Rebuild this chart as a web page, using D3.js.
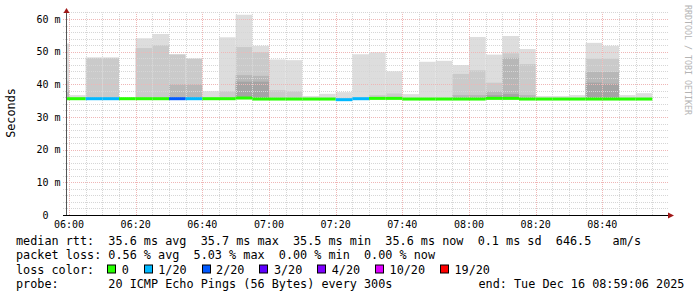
<!DOCTYPE html>
<html>
<head>
<meta charset="utf-8">
<script src="https://cdn.jsdelivr.net/npm/d3@7"></script>
<style>
  html, body { margin: 0; padding: 0; background: #fff; }
  svg { display: block; }
  text { font-family: "DejaVu Sans Mono", monospace; white-space: pre; }
</style>
</head>
<body>
<svg id="chart" width="697" height="297"></svg>
<script>
// 5-minute slots (start time of each 300s step)
const SLOTS = ["05:55","06:00","06:05","06:10","06:15","06:20","06:25","06:30","06:35","06:40",
  "06:45","06:50","06:55","07:00","07:05","07:10","07:15","07:20","07:25","07:30",
  "07:35","07:40","07:45","07:50","07:55","08:00","08:05","08:10","08:15","08:20",
  "08:25","08:30","08:35","08:40","08:45","08:50"];
// median rtt (ms)
const MEDIAN = [35.6,35.6,35.6,35.6,35.6,35.6,35.6,35.6,35.6,35.6,
  35.6,35.8,35.5,35.5,35.5,35.5,35.5,35.3,35.6,35.7,
  35.7,35.5,35.5,35.5,35.5,35.5,35.7,35.7,35.5,35.5,
  35.5,35.5,35.5,35.5,35.5,35.5];
// lost pings out of 20
const LOSS = [0,0,1,1,0,0,0,2,1,0, 0,0,0,0,0,0,0,1,1,0, 0,0,0,0,0,0,0,0,0,0, 0,0,0,0,0,0];
// smoke band tops (ms), outermost band first; null = band not drawn
const SMOKE = [
  [52.5,41.0,38.0], [36.7], [null,48.2], [null,48.2], [], [54.1,51.1], [55.4,52.0],
  [null,49.2,40.0], [null,47.9,40.0], [37.9], [54.4,37.9], [61.3,51.4,42.8,40.8],
  [51.8,49.8,42.6,40.8], [47.6,38.2], [47.4,37.9], [36.4], [37.1], [37.6], [49.2],
  [49.8,36.7], [44.0,37.2], [37.0], [46.9], [47.2], [45.9,43.2,36.7], [54.5,44.3,36.7],
  [49.1,40.5,37.8,36.7], [54.8,49.5,48.1,37.0], [50.8,46.2,36.7], [36.4], [36.4], [36.7],
  [52.7,47.8,43.8,40.5], [51.8,47.8,43.8,40.2], [36.7], [37.3]
];
const Y_TICKS = [0, 10, 20, 30, 40, 50, 60];
const X_TICKS = ["06:00","06:20","06:40","07:00","07:20","07:40","08:00","08:20","08:40"];
const LOSS_KEYS = [0, 1, 2, 3, 4, 10, 19];
const LOSS_COLORS = ["#26ff00","#00b8ff","#0059ff","#5e00ff","#7e00ff","#dd00ff","#ff0000"];
const LOSS_LABELS = ["0","1/20","2/20","3/20","4/20","10/20","19/20"];
const SMOKE_SHADES = ["#dddddd","#cacaca","#b7b7b7","#a4a4a4"];
const LEGEND = [
  "median rtt:  35.6 ms avg  35.7 ms max  35.5 ms min  35.6 ms now  0.1 ms sd  646.5   am/s",
  "packet loss: 0.56 % avg  5.03 % max  0.00 % min  0.00 % now"
];

const svg = d3.select("#chart");
const tp = d3.timeParse("%H:%M:%S");
const t5 = s => tp(s + ":00");

const L = 66, R = 666, B = 215;
const x = d3.scaleTime().domain([tp("05:59:06"), tp("08:59:06")]).range([L, R]);
const y = d3.scaleLinear().domain([0, 60]).range([B, 19]);
const TOP = y(62);

svg.append("defs").append("clipPath").attr("id", "plot")
  .append("rect").attr("x", L).attr("y", TOP).attr("width", R - L + 2).attr("height", B - TOP);

const lossColor = n => {
  let c = LOSS_COLORS[0];
  LOSS_KEYS.forEach((k, i) => { if (n >= k) c = LOSS_COLORS[i]; });
  return c;
};

// smoke
const plot = svg.append("g").attr("clip-path", "url(#plot)");
SLOTS.forEach((s, i) => {
  const a = t5(s), b = d3.timeMinute.offset(a, 5);
  const x0 = x(a), x1 = x(b);
  SMOKE[i].forEach((top, k) => {
    if (top == null) return;
    plot.append("rect")
      .attr("x", x0).attr("width", x1 - x0)
      .attr("y", y(top)).attr("height", y(MEDIAN[i]) - y(top))
      .attr("fill", SMOKE_SHADES[k]);
  });
});

// grid
const grid = svg.append("g").attr("fill", "none").attr("stroke-dasharray", "1,1");
d3.range(2, 63, 2).forEach(v => {
  const yy = Math.round(y(v)) + 0.5;
  grid.append("line").attr("x1", 63).attr("x2", 668).attr("y1", yy).attr("y2", yy)
    .attr("stroke", v % 10 === 0 ? "#efb6b6" : "#d6d6d6");
});
d3.timeMinute.every(5).range(tp("06:00:00"), tp("09:00:00")).forEach(d => {
  const xx = Math.round(x(d)) + 0.5;
  grid.append("line").attr("x1", xx).attr("x2", xx).attr("y1", B).attr("y2", TOP)
    .attr("stroke", d.getMinutes() % 20 === 0 ? "#efb6b6" : "#d6d6d6");
});

// median line coloured by loss
const med = svg.append("g").attr("clip-path", "url(#plot)");
SLOTS.forEach((s, i) => {
  const a = t5(s), b = d3.timeMinute.offset(a, 5);
  med.append("rect")
    .attr("x", x(a)).attr("width", x(b) - x(a))
    .attr("y", y(MEDIAN[i]) - 1.5).attr("height", 3)
    .attr("fill", lossColor(LOSS[i]));
});

// axes
svg.append("line").attr("x1", L + 0.5).attr("x2", L + 0.5).attr("y1", B).attr("y2", TOP - 1)
  .attr("stroke", "#555");
svg.append("path").attr("d", `M${L - 2.5},${TOP + 0.5} L${L + 3.5},${TOP + 0.5} L${L + 0.5},${TOP - 4.5} Z`)
  .attr("fill", "#a01818");
svg.append("line").attr("x1", 63).attr("x2", 669).attr("y1", B + 0.5).attr("y2", B + 0.5)
  .attr("stroke", "#000");
svg.append("path").attr("d", `M668,${B - 2.5} L668,${B + 3.5} L674,${B + 0.5} Z`)
  .attr("fill", "#a01818");

// tick labels
svg.append("g").selectAll("text").data(Y_TICKS).join("text")
  .attr("x", 60.5).attr("y", d => y(d) + 3.5)
  .attr("text-anchor", "end").attr("font-size", "10px").attr("fill", "#000")
  .text(d => d ? `${d} m` : "0  ");
svg.append("g").selectAll("text").data(X_TICKS).join("text")
  .attr("x", d => x(t5(d))).attr("y", 227.5)
  .attr("text-anchor", "middle").attr("font-size", "10px").attr("fill", "#000")
  .text(d => d);

svg.append("text").attr("transform", "translate(15,113) rotate(-90)")
  .attr("text-anchor", "middle").attr("font-size", "11.8px").attr("fill", "#000")
  .text("Seconds");

svg.append("text").attr("transform", "translate(685,60) rotate(90)")
  .attr("text-anchor", "middle").attr("font-size", "8.3px").attr("fill", "#b4b4b4")
  .text("RRDTOOL / TOBI OETIKER");

// legend
const LH = 14.5, LX = 16, LY = 244.5;
LEGEND.forEach((s, i) => {
  svg.append("text").attr("x", LX).attr("y", LY + i * LH)
    .attr("font-size", "11.8px").attr("fill", "#000").text(s);
});
const ly = LY + 2 * LH;
const lc = svg.append("text").attr("x", LX).attr("y", ly)
  .attr("font-size", "11.8px").attr("fill", "#000").text("loss color:  ");
let cx = LX + lc.node().getComputedTextLength() - 1;
LOSS_LABELS.forEach((lab, i) => {
  svg.append("rect").attr("x", Math.round(cx) + 0.5).attr("y", ly - 8.5).attr("width", 8).attr("height", 8)
    .attr("fill", LOSS_COLORS[i]).attr("stroke", "#000").attr("stroke-width", 1);
  const t = svg.append("text").attr("x", cx + 14.4).attr("y", ly)
    .attr("font-size", "11.8px").attr("fill", "#000").text(lab);
  cx = cx + 14.4 + t.node().getComputedTextLength() + 15;
});
svg.append("text").attr("x", LX).attr("y", ly + LH)
  .attr("font-size", "11.8px").attr("fill", "#000")
  .text("probe:       20 ICMP Echo Pings (56 Bytes) every 300s");
svg.append("text").attr("x", 478.5).attr("y", ly + LH)
  .attr("font-size", "11.8px").attr("fill", "#000")
  .text("end: Tue Dec 16 08:59:06 2025");
</script>
</body>
</html>
